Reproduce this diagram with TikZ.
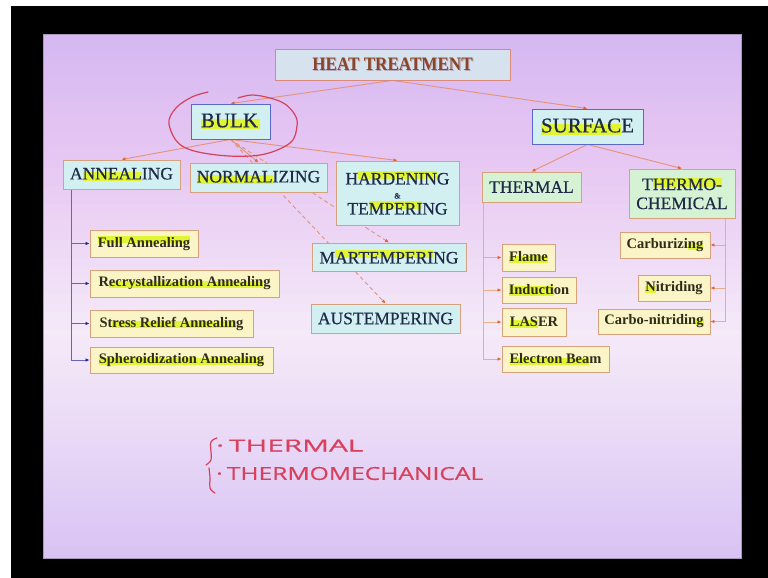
\documentclass[tikz,border=0pt]{standalone}
\usepackage{graphicx}
\usepackage{fontspec}
\setmainfont{Liberation Serif}
\newfontfamily\heavyfont[FakeBold=0.5]{Liberation Serif}
\newfontfamily\handfont[FakeBold=0.4]{Open Sans}
\usetikzlibrary{arrows.meta,calc}
\definecolor{gA}{HTML}{D6B8F2}
\definecolor{gB}{HTML}{E6C6F2}
\definecolor{gC}{HTML}{F5EAF8}
\definecolor{gD}{HTML}{EADAF6}
\definecolor{gE}{HTML}{D8C2F4}
\definecolor{slideedge}{HTML}{A898B8}
\definecolor{cyanfill}{HTML}{D2F0F2}
\definecolor{greenfill}{HTML}{D6F2D4}
\definecolor{yellowfill}{HTML}{FAF4C6}
\definecolor{htfill}{HTML}{D6E2EE}
\definecolor{tanline}{HTML}{D6A27E}
\definecolor{blueline}{HTML}{5A68C8}
\definecolor{htline}{HTML}{D98A7A}
\definecolor{maintext}{HTML}{1E2A48}
\definecolor{subtext}{HTML}{2E2C18}
\definecolor{httext}{HTML}{8A4428}
\definecolor{htshadow}{HTML}{B8A8B8}
\definecolor{hlc}{HTML}{E2F535}
\definecolor{connc}{HTML}{E39378}
\definecolor{tipc}{HTML}{E8602E}
\definecolor{bconnc}{HTML}{6468B4}
\definecolor{btipc}{HTML}{22248A}
\definecolor{oconnc}{HTML}{E6B08A}
\definecolor{handc}{HTML}{D8405C}
\pgfdeclarelayer{bg}
\pgfdeclarelayer{edges}
\pgfsetlayers{bg,edges,main}
\newcommand\hlx[3]{\setbox0\hbox{#3}\rlap{\textcolor{hlc}{\rule[#1]{\wd0}{#2}}}\box0}
\newcommand\hlb[1]{\hlx{-0.1em}{0.5em}{#1}}
\newcommand\hlu[1]{\hlx{0.3em}{0.45em}{#1}}
\newcommand\gradseg[4]{%
  \foreach \k in {0,...,19}{%
    \pgfmathsetmacro\ya{#1+(#2-#1)*\k/20}%
    \pgfmathsetmacro\yb{#1+(#2-#1)*(\k+1)/20+0.8}%
    \pgfmathtruncatemacro\pc{100-5*\k}%
    \fill[#3!\pc!#4] (43,\ya) rectangle (741,\yb);
  }}
\begin{document}
\begin{tikzpicture}[x=1pt,y=-1pt,
  nbox/.style={line width=0.9pt, inner sep=0pt, align=center},
  mainbox/.style={nbox, draw=tanline, fill=cyanfill, text=maintext, font=\heavyfont\fontsize{17.5}{19}\selectfont},
  catbox/.style={nbox, draw=blueline, fill=cyanfill, text=maintext, font=\heavyfont\fontsize{21}{23}\selectfont},
  greenbox/.style={mainbox, fill=greenfill},
  subbox/.style={nbox, draw=tanline, fill=yellowfill, text=subtext, font=\bfseries\fontsize{14.5}{16}\selectfont},
  htbox/.style={nbox, draw=htline, fill=htfill, text=httext, font=\bfseries\fontsize{19}{21}\selectfont},
  conn/.style={draw=connc, line width=0.9pt, -{Latex[length=4pt,width=3.5pt,color=tipc]}},
  dconn/.style={conn, dash pattern=on 4pt off 3pt},
  bconn/.style={draw=bconnc, line width=0.9pt, -{Latex[length=4pt,width=3.5pt,color=btipc]}},
  oconn/.style={draw=oconnc, line width=0.9pt, -{Latex[length=4pt,width=3.5pt,color=tipc]}},
  hand/.style={draw=handc, line width=1.2pt, line cap=round, line join=round},
  handtext/.style={text=handc, font=\handfont, inner sep=0pt, anchor=west}
]
\useasboundingbox (0,0) rectangle (768,578);
\begin{pgfonlayer}{bg}
\fill[white] (0,0) rectangle (768,578);
\fill[black] (11,6) rectangle (768,578);
\gradseg{34}{150}{gA}{gB}
\gradseg{150}{330}{gB}{gC}
\gradseg{330}{430}{gC}{gD}
\gradseg{430}{558}{gD}{gE}
\draw[slideedge, line width=0.8pt] (43,34) rectangle (741,558);
\end{pgfonlayer}

% top level
\node[htbox, minimum width=235pt, minimum height=31pt] (ht) at (392.5,64.5)
  {\scalebox{0.9}[1]{\rlap{\textcolor{htshadow}{\kern1.2pt\raisebox{-1.2pt}{HEAT TREATMENT}}}HEAT TREATMENT}};
\node[catbox, minimum width=79pt, minimum height=35pt] (bulk) at (230.5,121.5) {\hlb{BULK\kern2pt}};
\node[catbox, minimum width=111pt, minimum height=35pt] (surface) at (587.5,126.5) {\hlb{SURFAC}E};

% bulk branch
\node[mainbox, minimum width=117pt, minimum height=29pt] (anneal) at (121.5,174.5) {A\hlb{NNEAL}ING};
\node[mainbox, minimum width=137pt, minimum height=29pt] (normal) at (258.5,177.5) {\hlb{NORMAL}IZING};
\node[mainbox, minimum width=123pt, minimum height=64pt] (harden) at (397.5,193)
  {H\hlu{ARDENIN}G\\[-5pt]{\fontsize{8}{8}\selectfont\&}\\[-3pt]TE\hlu{MPERI}NG};
\node[mainbox, minimum width=154pt, minimum height=28pt] (marte) at (389,257) {M\hlu{ARTEMPERI}NG};
\node[mainbox, minimum width=149pt, minimum height=29pt] (auste) at (385.5,318.5) {AUSTEMPERING};

% annealing sub items
\node[subbox, minimum width=108pt, minimum height=27pt] (fa) at (144,243.5) {\hlu{Full Annealing}};
\node[subbox, minimum width=189pt, minimum height=27pt] (ra) at (184.5,283.5) {R\hlb{ecrystallization Annealin}g};
\node[subbox, minimum width=163pt, minimum height=27pt] (sra) at (171.5,323.5) {St\hlb{ress Relief Annealin}g};
\node[subbox, minimum width=183pt, minimum height=26pt] (spa) at (181.5,360) {\hlb{Spheroidization Annealing}};

% surface branch
\node[greenbox, minimum width=99pt, minimum height=30pt] (thermal) at (531.5,187) {THERMAL};
\node[greenbox, minimum width=106pt, minimum height=49pt] (tchem) at (682,193.5) {T\hlx{0.2em}{0.5em}{HERMO-}\\CHEMICAL};

\node[subbox, minimum width=53pt, minimum height=27pt] (flame) at (528.5,257.5) {\hlb{Flame}};
\node[subbox, minimum width=74pt, minimum height=26pt] (induct) at (539,290) {\hlx{-0.1em}{0.7em}{Inducti}on};
\node[subbox, minimum width=64pt, minimum height=28pt] (laser) at (534,322) {\hlb{LAS}ER};
\node[subbox, minimum width=107pt, minimum height=26pt] (eb) at (555.5,359) {\hlb{Electron Bea}m};

\node[subbox, minimum width=90pt, minimum height=26pt] (carb) at (665,245) {Carburizi\hlb{ng}};
\node[subbox, minimum width=72pt, minimum height=26pt] (nitr) at (674,288) {\hlb{N}itriding};
\node[subbox, minimum width=112pt, minimum height=25pt] (cn) at (654,321.5) {Carbo-nitridin\hlb{g}};

% connectors
\begin{pgfonlayer}{edges}
\draw[conn] (ht.south) -- (bulk.north);
\draw[conn] (ht.south) -- (surface.north);
\draw[conn] (bulk.south) -- (anneal.north);
\draw[conn] (bulk.south) -- (normal.north);
\draw[conn] (bulk.south) -- (harden.north);
\draw[dconn] (bulk.south) -- (marte.north);
\draw[dconn] (bulk.south) -- (auste.north);
\draw[conn] (surface.south) -- (thermal.north);
\draw[conn] (surface.south) -- (tchem.north);

\coordinate (aL) at ($(anneal.south west)+(9,0)$);
\draw[bconn] (aL) |- (fa.west);
\draw[bconn] (aL) |- (ra.west);
\draw[bconn] (aL) |- (sra.west);
\draw[bconn] (aL) |- (spa.west);

\coordinate (tL) at ($(thermal.south west)+(1.5,0)$);
\draw[oconn] (tL) |- (flame.west);
\draw[oconn] (tL) |- (induct.west);
\draw[oconn] (tL) |- (laser.west);
\draw[oconn] (tL) |- (eb.west);

\coordinate (cR) at ($(tchem.south east)+(-10,0)$);
\draw[oconn] (cR) |- (carb.east);
\draw[oconn] (cR) |- (nitr.east);
\draw[oconn] (cR) |- (cn.east);
\end{pgfonlayer}

% handwritten annotations
\draw[hand] plot[smooth, tension=0.6] coordinates {(238,98) (252,95) (270,98) (285,104) (295,115) (297,126) (290,143) (260,155) (217,155) (182,146) (169,124) (176,108) (192,97) (208,92)};
\draw[hand] plot[smooth, tension=0.7] coordinates {(217,438) (211,442) (211,452) (211,460) (206,465)};
\draw[hand] plot[smooth, tension=0.7] coordinates {(209,468) (210,478) (210,488) (215,493)};
\node[handtext] (h1) at (216,445.5) {\resizebox{147pt}{12pt}{\textperiodcentered\,THERMAL}};
\node[handtext] (h2) at (216,473.5) {\resizebox{267pt}{13pt}{\textperiodcentered\,THERMOMECHANICAL}};
\end{tikzpicture}
\end{document}
